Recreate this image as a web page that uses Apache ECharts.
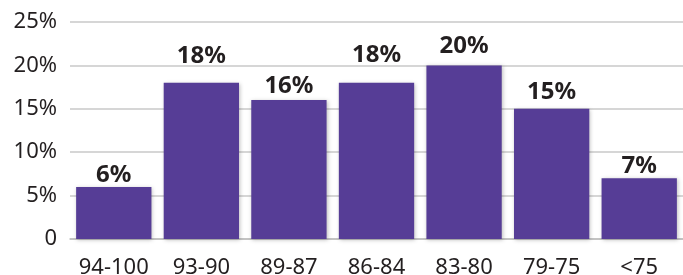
<!DOCTYPE html>
<html>
<head>
<meta charset="utf-8">
<script src="https://cdn.jsdelivr.net/npm/echarts@6/dist/echarts.min.js"></script>
<style>
  html, body { margin: 0; padding: 0; background: #fff; }
  #chart { width: 683px; height: 275px; }
</style>
</head>
<body>
<div id="chart"></div>
<script>
// grade bands and share of students
const categories = ['94-100', '93-90', '89-87', '86-84', '83-80', '79-75', '<75']
const shares = [6, 18, 16, 18, 20, 15, 7]
const yTicks = [0, 5, 10, 15, 20, 25]
// value labels sit at uneven heights above the bars in the original
const labelGaps = [0, 15, 2, 16, 7, 5, 0]

const myChart = echarts.init(document.getElementById('chart'))
myChart.setOption({
  animation: false,
  grid: {
    left: 70,
    right: 0,
    top: 22,
    bottom: 36,
    outerBoundsMode: 'none'
  },
  xAxis: {
    type: 'category',
    data: categories,
    axisTick: { show: false },
    axisLine: { lineStyle: { color: '#bdbdbd', width: 1.5 } },
    axisLabel: {
      color: '#231f20',
      fontFamily: 'Noto Sans',
      fontSize: 22,
      margin: 18,
      interval: 0
    }
  },
  yAxis: {
    type: 'value',
    min: yTicks[0],
    max: yTicks[yTicks.length - 1],
    interval: 5,
    axisLine: { show: false },
    axisTick: { show: false },
    splitLine: { lineStyle: { color: '#c8c8c8', width: 1.5 } },
    axisLabel: {
      color: '#231f20',
      fontFamily: 'Noto Sans',
      fontSize: 22,
      margin: 13,
      padding: [6, 0, 0, 0],
      formatter: function(value) {
        return value === 0 ? '0' : value + '%'
      }
    }
  },
  series: [
    {
      type: 'bar',
      data: shares.map(function(v, i) {
        return { value: v, label: { distance: labelGaps[i] } }
      }),
      barCategoryGap: '14%',
      itemStyle: {
        color: '#563d96',
        shadowColor: 'rgba(0,0,0,0.25)',
        shadowBlur: 4,
        shadowOffsetX: 1,
        shadowOffsetY: 1
      },
      label: {
        show: true,
        position: 'top',
        color: '#231f20',
        fontFamily: 'Noto Sans',
        fontWeight: 'bold',
        fontSize: 24,
        formatter: '{c}%'
      }
    }
  ]
})
window.addEventListener('resize', function() {
  myChart.resize()
})
</script>
</body>
</html>
